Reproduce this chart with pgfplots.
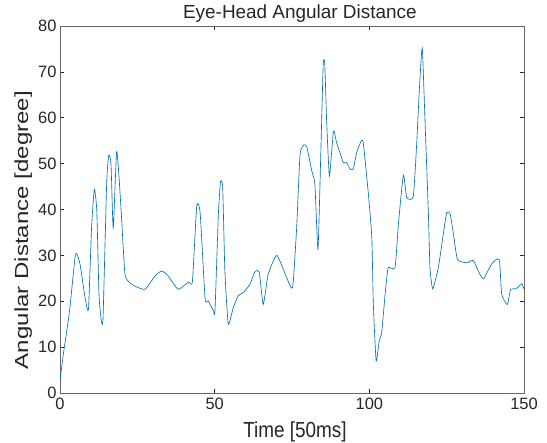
\documentclass[border=0pt]{standalone}
\usepackage{fontspec}
\setmainfont{Liberation Sans}
\usepackage{pgfplots}
\pgfplotsset{compat=1.18}

\definecolor{mlblue}{rgb}{0,0.447,0.741}
\definecolor{axgray}{gray}{0.4}
\definecolor{txt}{gray}{0.15}

\begin{document}
\begin{tikzpicture}
\begin{axis}[
    scale only axis,
    width=464bp,
    height=367bp,
    xmin=0, xmax=150,
    ymin=0, ymax=80,
    xtick={0,50,100,150},
    ytick={0,10,...,80},
    tick align=inside,
    major tick length=4bp,
    axis line style={axgray, line width=0.6pt},
    every tick/.style={txt, line width=0.6pt},
    tick label style={font=\fontsize{16.5}{16.5}\selectfont, text=txt},
    /pgf/number format/assume math mode=true,
    xticklabel style={yshift=-2bp},
    every axis title shift=0pt,
    title={Eye-Head Angular Distance},
    title style={font=\fontsize{19}{19}\selectfont, text=txt,
        at={(axis description cs:0.517,1.021)}, anchor=base},
    xlabel={Time [50ms]},
    xlabel style={font=\fontsize{19}{19}\selectfont, text=txt,
        at={(axis description cs:0.5065,-0.1199)}, anchor=base, yscale=1.15},
    ylabel={Angular Distance [degree]},
    ylabel style={font=\fontsize{19}{19}\selectfont, text=txt,
        at={(axis description cs:-0.0791,0.444)}, anchor=center, xscale=1.27},
]
\addplot[mlblue, line width=0.65pt, smooth, tension=0.3] coordinates {
(0,2.8) (1.2,9) (2.5,15) (3.2,18.6) (4.85,29.5) (5.4,30.4) (6.5,28) (8.1,20.8) (9.2,18.3)
(10.2,36) (11.1,44.4) (11.9,39.7) (12.6,21.5) (13.3,16.1) (13.9,16.1) (15.1,46) (15.8,51.9)
(16.5,49.8) (17.2,36) (18.3,52.6) (19.1,46.9) (19.9,38.2) (21,25.9) (22.6,24) (24.2,23.3)
(27.5,22.6) (30.7,25.5) (32.9,26.6) (35,25.5) (38.2,22.6) (41.5,24.2) (42.8,24.3) (44.2,40.8)
(45.3,39.3) (46.9,20.6) (47.9,20.1) (49.6,17.9) (50.1,17.9) (51.2,39) (51.9,46.1) (52.6,44.7)
(53.3,26.6) (54.4,15) (56,18.6) (57.6,21.2) (59.3,21.9) (61.4,23.7) (63,26.4) (64.4,26.4)
(65.7,19.3) (67.3,25.9) (70.1,30) (73.3,25.1) (75.2,23) (76.5,36) (77.6,52) (78.9,54.1)
(79.8,53.6) (81.4,48.4) (82.4,45.5) (83.4,31.3) (84.3,52) (85.1,71.8) (85.6,71.6) (86.2,59.3)
(87.1,47.3) (88.4,57.1) (89.4,54.6) (90.5,52.4) (91.6,50.2) (92.7,50.2) (93.8,48.8) (94.8,48.8)
(95.9,52.4) (97.5,55.1) (98.1,54.2) (99.7,43.3) (100.8,33.9) (101.3,19.3) (102.2,7) (103.2,11.4)
(104,13.2) (105.1,21.5) (106.1,27.3) (108.3,27.3) (109.4,36.8) (111,47.5) (112.1,42.6) (114.2,42.8)
(115.3,54.2) (116.2,66.5) (117.1,75.2) (118,59.3) (119.1,39) (119.6,27.3) (120.5,22.7) (122.3,27.3)
(123.9,34.6) (125,39.3) (126.1,39.1) (127.2,34.6) (128.5,29.1) (131.5,28.4) (133.6,28.9) (135.2,26.6)
(136.9,24.9) (139.6,28.2) (142,29.1) (142.8,21.5) (144.6,19.3) (145.7,22.6) (147.4,22.7) (149.3,23.8)
(150,22.6)
};
\end{axis}
\pgfresetboundingbox
\path ([shift={(-60bp,-50bp)}]current axis.south west) rectangle ([shift={(23bp,26bp)}]current axis.north east);
\end{tikzpicture}
\end{document}
